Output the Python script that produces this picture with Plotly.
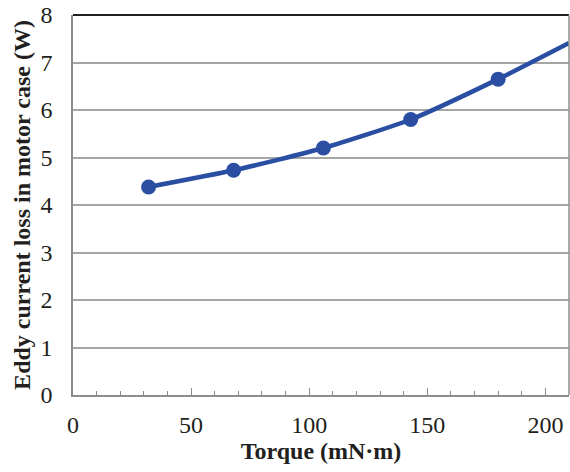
import plotly.graph_objects as go

torque = [32, 68, 106, 143, 180]
loss = [4.38, 4.73, 5.2, 5.8, 6.65]
trend_x = [32, 68, 106, 143, 180, 210]
trend_y = [4.38, 4.73, 5.2, 5.8, 6.65, 7.41]

blue = "#2a4ea2"
fig = go.Figure()
fig.add_trace(go.Scatter(x=trend_x, y=trend_y, mode="lines",
                         line=dict(color=blue, width=4.5, shape="spline", smoothing=0.6),
                         hoverinfo="skip", showlegend=False, cliponaxis=False))
fig.add_trace(go.Scatter(x=torque, y=loss, mode="markers",
                         marker=dict(color=blue, size=15), showlegend=False, cliponaxis=False))

font = "Liberation Serif, Times New Roman, serif"
fig.update_layout(
    width=570, height=472,
    margin=dict(l=73, r=1, t=15, b=77),
    plot_bgcolor="white", paper_bgcolor="white",
    font=dict(family=font, size=24, color="#231f20"),
    xaxis=dict(range=[0, 210], dtick=50, tick0=0, showgrid=False, zeroline=False,
               showline=True, linecolor="#8c8c8c", linewidth=1.5,
               ticks="inside", ticklen=7, tickcolor="#8c8c8c", tickwidth=1,
               ticklabelstandoff=7,
               minor=dict(dtick=10, ticks="inside", ticklen=4, tickcolor="#8c8c8c", tickwidth=1),
               title=dict(text="<b>Torque (mN·m)</b>", font=dict(size=24), standoff=6)),
    yaxis=dict(range=[0, 8], dtick=1, showgrid=True, gridcolor="#a6a6a6", gridwidth=1.5,
               zeroline=False, showline=True, linecolor="#8c8c8c", linewidth=1.5,
               ticks="", ticklabelstandoff=14,
               title=dict(text="<b>Eddy current loss in motor case (W)</b>", font=dict(size=24), standoff=3)),
    shapes=[
        dict(type="line", xref="paper", yref="paper", x0=0, x1=1, y0=1, y1=1,
             line=dict(color="#231f20", width=2)),
        dict(type="line", xref="paper", yref="paper", x0=1, x1=1, y0=0, y1=1,
             line=dict(color="#8c8c8c", width=1.5)),
    ],
)
fig.write_html("out.html", config={"displayModeBar": False},
               post_script="document.body.style.margin='0';document.body.style.overflow='hidden';")
